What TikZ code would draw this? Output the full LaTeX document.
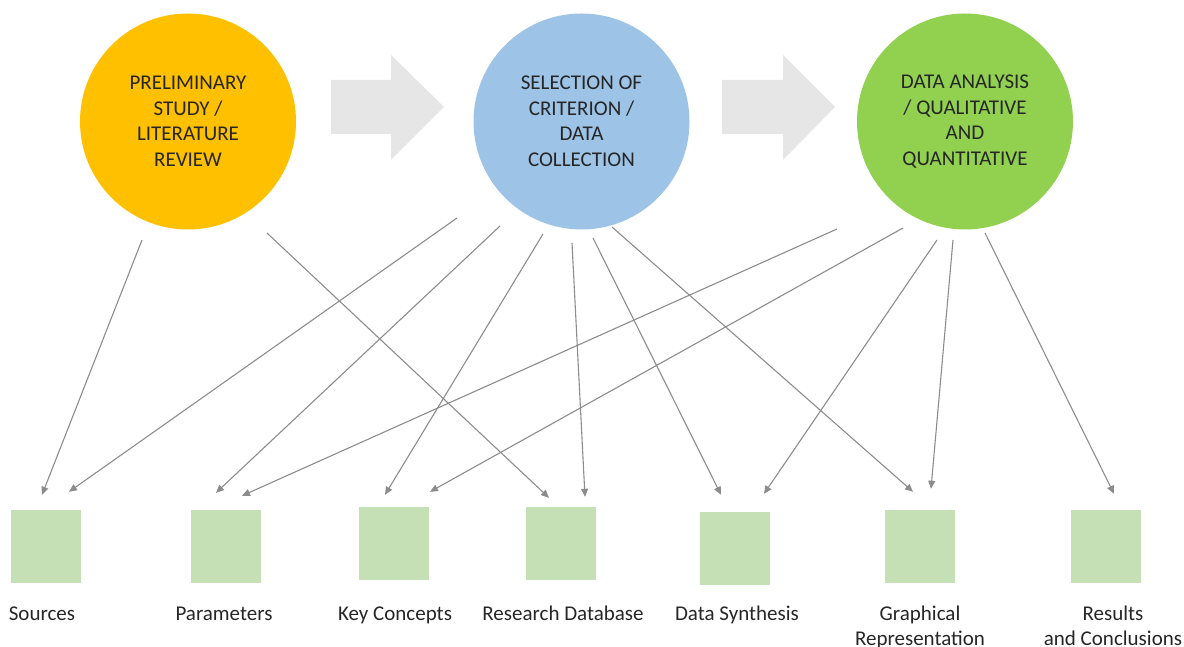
\documentclass[tikz,border=0pt]{standalone}
\usepackage{fontspec}
\setmainfont{Carlito}
\usepackage{tikz}
\usetikzlibrary{arrows.meta,positioning}
\definecolor{amarelo}{RGB}{255, 192, 0}
\definecolor{azul}{RGB}{157, 195, 230}
\definecolor{verde}{RGB}{146, 208, 80}
\definecolor{caixaverde}{RGB}{197, 224, 180}
\definecolor{blococinza}{RGB}{230, 230, 230}
\definecolor{linhacinza}{RGB}{140, 140, 140}
\definecolor{texto}{RGB}{38, 38, 38}

\begin{document}
\begin{tikzpicture}[x=1pt, y=1pt,
    fase/.style={circle, minimum size=216pt, inner sep=0pt, align=center,
                 text=texto, font=\fontsize{21}{25.5}\selectfont},
    caixa/.style={fill=caixaverde, minimum width=70pt, minimum height=73pt,
                  inner sep=0pt},
    rotulo/.style={align=center, inner sep=0pt, anchor=north, text=texto,
                   font=\fontsize{21}{25}\selectfont},
    seta/.style={draw=linhacinza, line width=1.1pt,
                 -{Triangle[length=8pt, width=7pt]}},
  ]
  \useasboundingbox (0,0) rectangle (1184,647);

  % fases do estudo
  \node[fase, fill=amarelo] (prelim) at (188,525.5)
    {PRELIMINARY\\STUDY /\\LITERATURE\\REVIEW};
  \node[fase, fill=azul] (selec) at (581.5,525.5)
    {SELECTION OF\\CRITERION /\\DATA\\COLLECTION};
  \node[fase, fill=verde] (analise) at (965,525.5)
    {DATA ANALYSIS\\/ QUALITATIVE\\AND\\QUANTITATIVE};

  % setas grandes entre as fases
  \fill[blococinza] (331,567) -- (391,567) -- (391,592) -- (444,540)
    -- (391,487) -- (391,513) -- (331,513) -- cycle;
  \fill[blococinza] (722,567) -- (783,567) -- (783,592) -- (835,540)
    -- (783,487) -- (783,513) -- (722,513) -- cycle;

  % caixas dos resultados
  \node[caixa] (fontes) at (46,100.5) {};
  \node[caixa] (param) at (226,100.5) {};
  \node[caixa] (conceitos) at (394,103.5) {};
  \node[caixa] (base) at (561,103.5) {};
  \node[caixa] (sintese) at (735,98.5) {};
  \node[caixa] (grafica) at (919.5,100.5) {};
  \node[caixa] (result) at (1106,100.5) {};

  \node[rotulo] (l-fontes) at (42,44.5) {\strut Sources};
  \node[rotulo] (l-param) at (224,44.5) {\strut Parameters};
  \node[rotulo] (l-conceitos) at (395,44.5) {\strut Key Concepts};
  \node[rotulo] (l-base) at (563,44.5) {\strut Research Database};
  \node[rotulo] (l-sintese) at (737,44.5) {\strut Data Synthesis};
  \node[rotulo] (l-grafica) at (920,44.5) {\strut Graphical\\Representation};
  \node[rotulo] (l-result) at (1113,44.5) {\strut Results\\and Conclusions};

  % ligacoes
  \draw[seta] ([shift={(-46,-118.5)}]prelim.center) -- ([shift={(-4,15)}]fontes.north);
  \draw[seta] ([shift={(79,-111.5)}]prelim.center) -- ([shift={(-12,9)}]base.north);

  \draw[seta] ([shift={(-124.5,-96.5)}]selec.center) -- ([shift={(23,18)}]fontes.north);
  \draw[seta] ([shift={(-81.5,-104.5)}]selec.center) -- ([shift={(-10,17)}]param.north);
  \draw[seta] ([shift={(-38.5,-112.5)}]selec.center) -- ([shift={(-9,12)}]conceitos.north);
  \draw[seta] ([shift={(-9.5,-121.5)}]selec.center) -- ([shift={(24,10)}]base.north);
  \draw[seta] ([shift={(11.5,-116.5)}]selec.center) -- ([shift={(-14,17)}]sintese.north);
  \draw[seta] ([shift={(30.5,-105.5)}]selec.center) -- ([shift={(-6.5,18)}]grafica.north);

  \draw[seta] ([shift={(-128,-107.5)}]analise.center) -- ([shift={(16,14)}]param.north);
  \draw[seta] ([shift={(-62,-106.5)}]analise.center) -- ([shift={(36,15)}]conceitos.north);
  \draw[seta] ([shift={(-28,-118.5)}]analise.center) -- ([shift={(29,18)}]sintese.north);
  \draw[seta] ([shift={(-12,-118.5)}]analise.center) -- ([shift={(11.5,21)}]grafica.north);
  \draw[seta] ([shift={(20,-111.5)}]analise.center) -- ([shift={(8,16)}]result.north);
\end{tikzpicture}
\end{document}
